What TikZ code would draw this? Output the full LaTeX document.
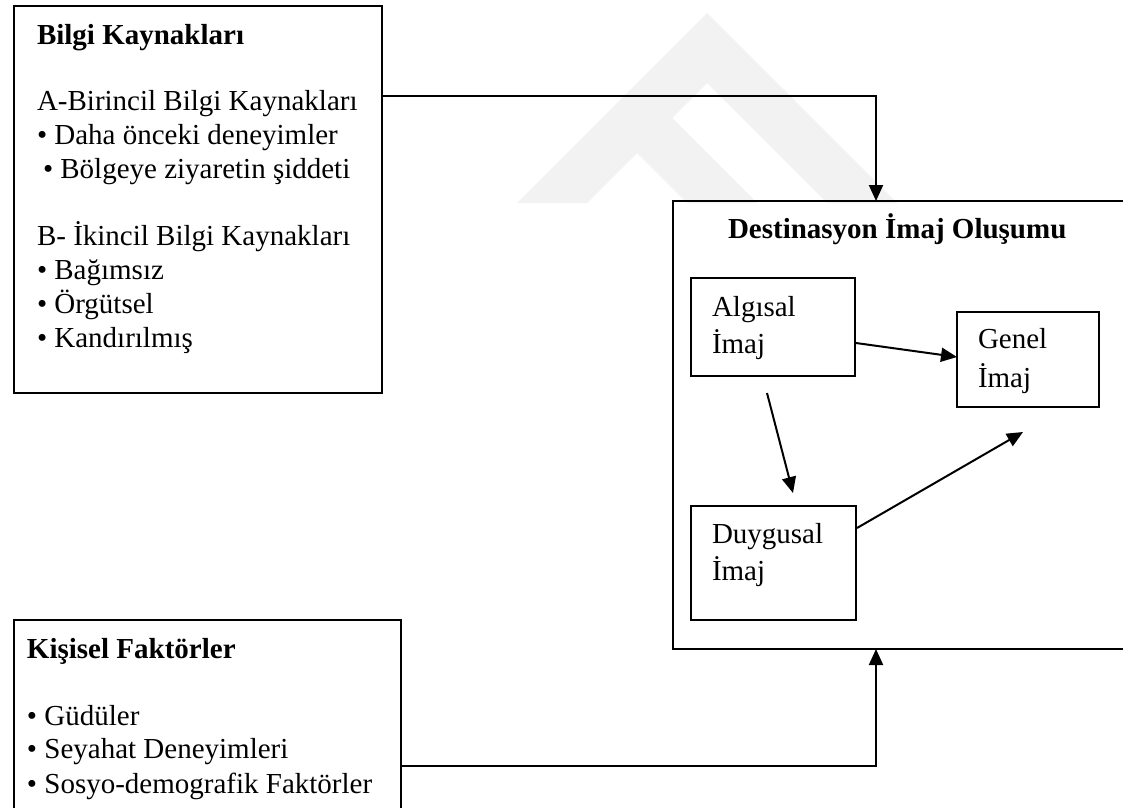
\documentclass[tikz,border=0pt]{standalone}
\usepackage{fontspec}
\setmainfont{Liberation Serif}
\usetikzlibrary{arrows.meta,calc}
\begin{document}
\begin{tikzpicture}[x=1pt,y=-1pt,
  box/.style={draw,line width=1.8pt,inner sep=0pt,outer sep=0pt,anchor=north west},
  txt/.style={anchor=base west,inner sep=0pt,outer sep=0pt,font=\fontsize{29}{34}\selectfont},
  btxt/.style={txt,font=\fontsize{29}{34}\selectfont\bfseries},
  conn/.style={line width=2pt,-{Triangle[length=16pt,width=14pt]}},
  wm/.style={fill=black!5,draw=none}]
\useasboundingbox (0,0) rectangle (1123,807);
\fill[white] (0,0) rectangle (1123,807);
\clip (0,0) rectangle (1123,807);
% watermark (faint)
\fill[wm] (517,203) -- (707,13) -- (897,203) -- (827,203) -- (707,83) -- (587,203) -- cycle;
\fill[wm] (637,83) -- (757,203) -- (687,203) -- (637,153) -- cycle;
% boxes
\node[box,minimum width=368pt,minimum height=387pt] (bilgi) at (14,6) {};
\node[box,minimum width=387pt,minimum height=230pt] (kis) at (14,620) {};
\node[box,minimum width=500pt,minimum height=448pt] (dest) at (673,201) {};
\node[box,minimum width=164pt,minimum height=98pt] (alg) at (691,278) {};
\node[box,minimum width=142pt,minimum height=95pt] (gen) at (957,312) {};
\node[box,minimum width=165pt,minimum height=114pt] (duy) at (691,506) {};
% texts box 1
\node[btxt] (t1) at (37,44) {Bilgi Kaynakları};
\node[txt] (t2) at (37,110) {A-Birincil Bilgi Kaynakları};
\node[txt] (t3) at (37,144) {• Daha önceki deneyimler};
\node[txt] (t4) at (43,178) {• Bölgeye ziyaretin şiddeti};
\node[txt] (t5) at (37,245) {B- İkincil Bilgi Kaynakları};
\node[txt] (t6) at (37,279) {• Bağımsız};
\node[txt] (t7) at (37,313) {• Örgütsel};
\node[txt] (t8) at (37,347) {• Kandırılmış};
% texts box kis
\node[btxt] (k1) at (27,658) {Kişisel Faktörler};
\node[txt] (k2) at (27,725) {• Güdüler};
\node[txt] (k3) at (27,758) {• Seyahat Deneyimleri};
\node[txt] (k4) at (27,793) {• Sosyo-demografik Faktörler};
% texts dest
\node[btxt] (d1) at (728,238) {Destinasyon İmaj Oluşumu};
\node[txt] (a1) at (712,316) {Algısal};
\node[txt] (a2) at (712,353) {İmaj};
\node[txt] (g1) at (978,348) {Genel};
\node[txt] (g2) at (978,387) {İmaj};
\node[txt] (u1) at (712,543) {Duygusal};
\node[txt] (u2) at (712,580) {İmaj};
% connectors
\draw[conn] ($(bilgi.north east)+(0,90)$) -| ($(dest.north west)+(203,0)$);
\draw[conn] ($(kis.north east)+(0,146)$) -| ($(dest.south west)+(203,0)$);
\draw[conn] ($(alg.east)+(1,16)$) -- ($(gen.west)+(0,-2.5)$);
\draw[conn] ($(alg.south)+(-6,17)$) -- ($(duy.north)+(19.5,-13)$);
\draw[conn] ($(duy.north east)+(1,22)$) -- ($(gen.south)+(-5,25)$);
\end{tikzpicture}
\end{document}
